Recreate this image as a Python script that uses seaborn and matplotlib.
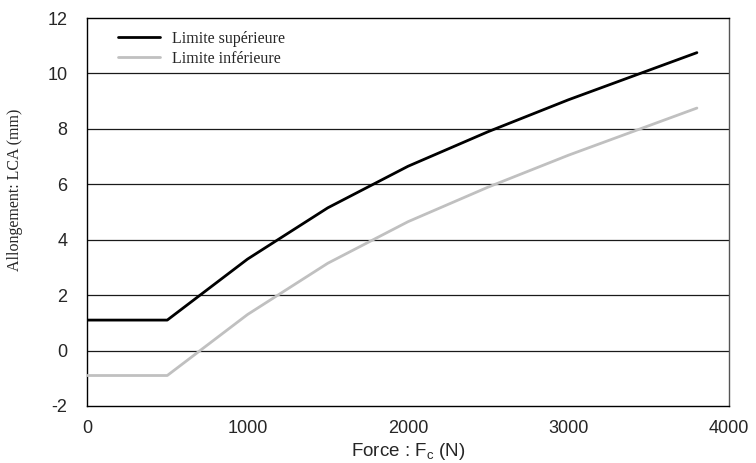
import matplotlib
matplotlib.use("Agg")
import matplotlib.pyplot as plt
import seaborn as sns
import pandas as pd

force = [0, 500, 1000, 1500, 2000, 2500, 3000, 3800]
limite_sup = [1.1, 1.1, 3.3, 5.15, 6.65, 7.9, 9.05, 10.75]
limite_inf = [-0.9, -0.9, 1.3, 3.15, 4.65, 5.9, 7.05, 8.75]
series_names = ["Limite supérieure", "Limite inférieure"]
x_ticks = [0, 1000, 2000, 3000, 4000]
y_ticks = [-2, 0, 2, 4, 6, 8, 10, 12]

df = pd.concat([
    pd.DataFrame({"Force": force, "Allongement": limite_sup, "Série": series_names[0]}),
    pd.DataFrame({"Force": force, "Allongement": limite_inf, "Série": series_names[1]}),
])

sns.set_style("white")
plt.rcParams["font.family"] = ["Liberation Sans", "DejaVu Sans"]
plt.rcParams["axes.unicode_minus"] = False

fig = plt.figure(figsize=(7.56, 4.63), dpi=100)
ax = fig.add_axes([87 / 756, 1 - 406 / 463, (729 - 87) / 756, (406 - 18) / 463])

for y in y_ticks[1:-1]:
    ax.axhline(y, color="#1a1a1a", lw=0.9, zorder=1)

sns.lineplot(data=df, x="Force", y="Allongement", hue="Série",
             palette={series_names[0]: "#000000", series_names[1]: "#c0c0c0"},
             linewidth=2.0, ax=ax, zorder=3, legend=True)

ax.set_xlim(0, 4000)
ax.set_ylim(-2, 12)
ax.set_xticks(x_ticks)
ax.set_yticks(y_ticks)
ax.tick_params(axis="x", direction="in", length=5, width=0.8, color="#222222",
               labelsize=13, pad=10)
ax.tick_params(axis="y", length=0, labelsize=13, pad=14)
for s in ax.spines.values():
    s.set_visible(True)
    s.set_color("#000000")
    s.set_linewidth(1.0)
ax.spines["right"].set_color("#555555")

ax.set_xlabel("Force : F$_\\mathregular{c}$ (N)", fontsize=13.5)
ax.xaxis.set_label_coords(0.5, -(452 - 406) / 388, transform=ax.transAxes)
ax.xaxis.label.set_va("center")
ax.set_ylabel("Allongement: LCA (mm)", fontsize=11.5, family=["Liberation Serif"])
ax.yaxis.set_label_coords(-(87 - 15) / 642, (406 - 190) / 388)
ax.yaxis.label.set_va("center")

leg = ax.legend(loc="upper left", bbox_to_anchor=(0.026, 1.004), frameon=False,
                prop={"family": "Liberation Serif", "size": 11.5},
                handlelength=2.6, handletextpad=0.75, labelspacing=0.25)
for line in leg.get_lines():
    line.set_linewidth(2.0)

fig.savefig("out.png", dpi=100)
